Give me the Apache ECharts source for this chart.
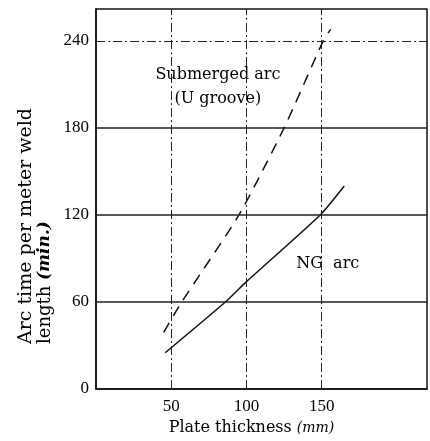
<!DOCTYPE html>
<html>
<head>
<meta charset="utf-8">
<script src="https://cdn.jsdelivr.net/npm/echarts@6/dist/echarts.min.js"></script>
<style>
  html, body { margin: 0; padding: 0; background: #fff; }
  #chart { width: 430px; height: 441px; }
</style>
</head>
<body>
<div id="chart"></div>
<script>
// 数据
const xTickLabels = [50, 100, 150]
const yTickLabels = [0, 60, 120, 180, 240]
const submergedArc = [[45, 39], [57, 60], [95, 120], [125, 180], [151, 240], [156, 248]]
const ngArc = [[46, 25], [86, 60], [100, 74], [149, 120], [165, 140]]
const xGridDashDot = [50, 100, 150]
const yGridSolid = [60, 120, 180]
const yGridDashDot = [240]
const annotations = [
    { name: 'Submerged arc\n(U groove)', value: [81, 208] },
    { name: 'NG  arc', value: [154, 86] }
]

const serif = '"DejaVu Serif", "Liberation Serif", serif'
const dashDot = [9, 3, 2, 3]

let myChart = echarts.init(document.getElementById('chart'))

// 网格线
function gridLines() {
    let data = []
    xGridDashDot.forEach(v => data.push({ xAxis: v, lineStyle: { type: dashDot, width: 1 } }))
    yGridSolid.forEach(v => data.push({ yAxis: v, lineStyle: { type: 'solid', width: 1.5 } }))
    yGridDashDot.forEach(v => data.push({ yAxis: v, lineStyle: { type: dashDot, width: 1 } }))
    return data
}

let option = {
    animation: false,
    backgroundColor: '#fff',
    grid: {
        left: 96,
        right: 3,
        top: 9,
        bottom: 52,
        show: true,
        borderColor: '#111',
        borderWidth: 1.5
    },
    xAxis: {
        type: 'value',
        min: 0,
        max: 220,
        interval: 50,
        axisLine: { show: true, lineStyle: { color: '#111', width: 1.5 } },
        axisTick: { show: false },
        splitLine: { show: false },
        axisLabel: {
            color: '#000',
            fontFamily: '"Liberation Serif", serif',
            fontSize: 17,
            margin: 9,
            showMaxLabel: false,
            formatter: v => xTickLabels.includes(v) ? String(v) : ''
        },
        name: 'Plate thickness {i|(mm)}',
        nameLocation: 'middle',
        nameGap: 30,
        nameTextStyle: {
            color: '#000',
            fontFamily: serif,
            fontSize: 16,
            padding: [0, 20, 0, 0],
            rich: {
                i: { fontFamily: serif, fontSize: 14, fontStyle: 'italic', color: '#000' }
            }
        }
    },
    yAxis: {
        type: 'value',
        min: 0,
        max: 262,
        interval: 60,
        axisLine: { show: true, lineStyle: { color: '#111', width: 1.5 } },
        axisTick: { show: false },
        splitLine: { show: false },
        axisLabel: {
            color: '#000',
            fontFamily: '"Liberation Serif", serif',
            fontSize: 17,
            margin: 7,
            showMaxLabel: false,
            formatter: v => yTickLabels.includes(v) ? String(v) : ''
        }
    },
    graphic: [
        {
            type: 'text',
            x: 26,
            y: 344,
            rotation: Math.PI / 2,
            style: {
                text: 'Arc time per meter weld',
                fill: '#000',
                font: '19px ' + serif,
                textAlign: 'left',
                textVerticalAlign: 'middle'
            }
        },
        {
            type: 'text',
            x: 45,
            y: 344,
            rotation: Math.PI / 2,
            style: {
                text: 'length {i|(min.)}',
                fill: '#000',
                font: '18px ' + serif,
                textAlign: 'left',
                textVerticalAlign: 'middle',
                rich: {
                    i: { fontFamily: serif, fontSize: 17, fontStyle: 'italic', fontWeight: 'bold', fill: '#000' }
                }
            }
        }
    ],
    series: [
        {
            name: 'Submerged arc (U groove)',
            type: 'line',
            data: submergedArc,
            symbol: 'none',
            smooth: 0.2,
            lineStyle: { color: '#111', width: 1.5, type: [11, 8] },
            markLine: {
                silent: true,
                symbol: 'none',
                label: { show: false },
                lineStyle: { color: '#222' },
                data: gridLines()
            },
            z: 3
        },
        {
            name: 'NG arc',
            type: 'line',
            data: ngArc,
            symbol: 'none',
            smooth: 0.2,
            lineStyle: { color: '#111', width: 1.5, type: 'solid' },
            z: 3
        },
        {
            name: 'labels',
            type: 'scatter',
            data: annotations,
            symbolSize: 0,
            itemStyle: { color: '#000', opacity: 1 },
            label: {
                show: true,
                position: 'inside',
                formatter: p => p.name,
                color: '#000',
                opacity: 1,
                fontFamily: serif,
                fontSize: 16,
                lineHeight: 24
            }
        }
    ]
}

myChart.setOption(option)
</script>
</body>
</html>
